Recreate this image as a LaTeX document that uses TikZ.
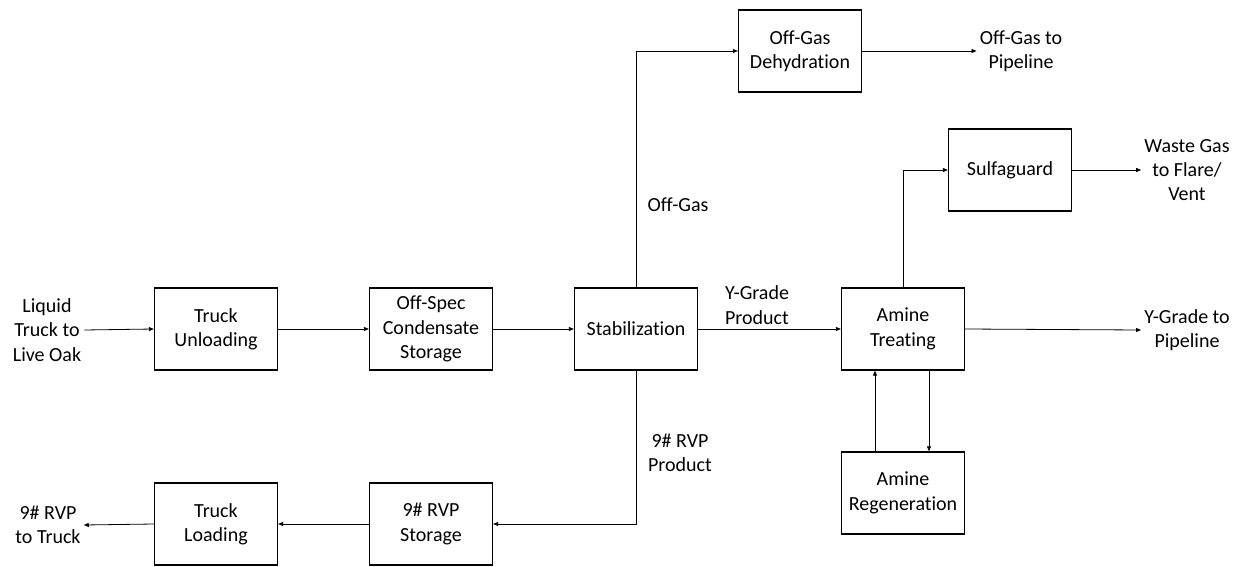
\documentclass[tikz,border=0pt]{standalone}
\usepackage{fontspec}
\setmainfont{Carlito}[Ligatures=NoCommon]
\usetikzlibrary{arrows.meta,calc}
\begin{document}
\begin{tikzpicture}[x=1pt,y=-1pt,
  every node/.style={font=\fontsize{20}{24.4}\selectfont, align=center},
  unit/.style={draw, line width=1.3pt, minimum width=123pt, minimum height=82pt, inner sep=0pt},
  lbl/.style={inner sep=3pt},
  arr/.style={line width=0.8pt, -{Triangle[length=5pt,width=4pt]}},
  ln/.style={line width=0.8pt}]
\useasboundingbox (0,0) rectangle (1242,567);
% units
\node[unit] (TU) at (216,329) {Truck\\Unloading};
\node[unit] (OS) at (431,329) {Off-Spec\\Condensate\\Storage};
\node[unit] (ST) at (636,329) {Stabilization};
\node[unit] (OD) at (800,51) {Off-Gas\\Dehydration};
\node[unit] (SG) at (1010,170) {Sulfaguard};
\node[unit] (AT) at (903,329) {Amine\\Treating};
\node[unit] (AR) at (903,493) {Amine\\Regeneration};
\node[unit] (TL) at (216,524) {Truck\\Loading};
\node[unit] (RS) at (431,524) {9\# RVP\\Storage};
% terminal labels
\node[lbl] (lt) at (47,330) {Liquid\\Truck to\\Live Oak};
\node[lbl] (og) at (1021,51) {Off-Gas to\\Pipeline};
\node[lbl] (wg) at (1187,170) {Waste Gas\\to Flare/\\Vent};
\node[lbl] (yg) at (1187,330) {Y-Grade to\\Pipeline};
\node[lbl] (rt) at (48,525) {9\# RVP\\to Truck};
% stream labels
\node[lbl] (offgas) at (678,205) {Off-Gas};
\node[lbl] (ygp) at (757,305) {Y-Grade\\Product};
\node[lbl] (rvpp) at (680,453) {9\# RVP\\Product};
% connectors
\draw[arr] (lt.east) -- (TU.west);
\draw[arr] (TU.east) -- (OS.west);
\draw[arr] (OS.east) -- (ST.west);
\draw[arr] (ST.east) -- (AT.west);
\draw[arr] (ST.north) |- (OD.west);
\draw[arr] (OD.east) -- (og.west);
\draw[arr] (AT.north) |- (SG.west);
\draw[arr] (SG.east) -- (wg.west);
\draw[arr] (AT.east) -- (yg.west);
\draw[arr] ([xshift=-28pt]AR.north) -- ([xshift=-28pt]AT.south);
\draw[arr] ([xshift=26pt]AT.south) -- ([xshift=26pt]AR.north);
\draw[arr] (ST.south) |- (RS.east);
\draw[arr] (RS.west) -- (TL.east);
\draw[arr] (TL.west) -- (rt.east);
\end{tikzpicture}
\end{document}
